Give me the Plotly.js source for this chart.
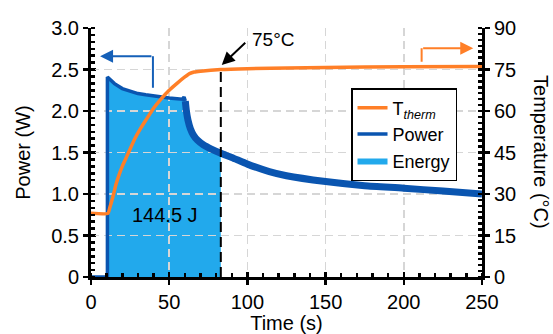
<!DOCTYPE html>
<html>
<head>
<meta charset="utf-8">
<script src="https://cdn.plot.ly/plotly-3.0.1.min.js"></script>
<style>html,body{margin:0;padding:0;background:#fff;}#chart{width:553px;height:334px;}</style>
</head>
<body>
<div id="chart"></div>
<script>
// ---- data ----
const tempTime = [0, 10.8, 12, 14, 16, 18, 20, 22, 24, 28, 32, 36, 40, 45, 50, 55, 60, 63, 66, 70, 83, 100, 150, 200, 250];
const tempC    = [23, 23, 25, 29, 33.5, 37, 40, 42.5, 45, 50, 54, 57.5, 61, 64.5, 67.5, 70, 72.3, 73.5, 74.1, 74.4, 75, 75.3, 75.7, 76, 76.1];

const powerTime = [0, 10.5, 10.5, 12, 15, 20, 25, 30, 35, 40, 45, 50, 55, 58.5, 59.5, 60.3, 61, 62, 63.5, 65.5, 68, 72, 77, 83, 90, 100, 114, 125, 150, 175, 200, 225, 250];
const powerW    = [0, 0, 2.41, 2.38, 2.33, 2.27, 2.235, 2.21, 2.195, 2.18, 2.168, 2.158, 2.148, 2.142, 2.17, 2.12, 2.0, 1.89, 1.79, 1.71, 1.65, 1.59, 1.54, 1.49, 1.44, 1.36, 1.27, 1.22, 1.15, 1.10, 1.07, 1.035, 1.0];

const energyStart = 10.5;      // s
const markTime = 83;           // s, dashed marker
const markTemp = 75;           // °C
const energyLabel = '144.5 J';
const markLabel = '75°C';

const powerTickVals = [0, 0.5, 1.0, 1.5, 2.0, 2.5, 3.0];
const powerTickText = ['0', '0.5', '1.0', '1.5', '2.0', '2.5', '3.0'];
const tempTickVals  = [0, 15, 30, 45, 60, 75, 90];
const timeTickVals  = [0, 50, 100, 150, 200, 250];

// arrow guides (data coordinates)
const blueArrowX = [39.6, 39.6], blueArrowY = [2.28, 2.66], blueArrowHeadX = 5.8;
const orangeArrowX = [211.4, 211.4], orangeArrowY = [77.8, 82.7], orangeArrowHeadX = 244.4;
const markArrowTail = [99.6, 85.2], markArrowHead = [83.6, 76.6], markTextPos = [101.5, 85.8];
const energyTextPos = [47.3, 0.75];

// ---- derived ----
const splitIdx = powerTime.indexOf(60.3);
const pA_t = powerTime.slice(0, splitIdx + 1), pA_w = powerW.slice(0, splitIdx + 1);
const pB_t = powerTime.slice(splitIdx), pB_w = powerW.slice(splitIdx);
const eT = [], eW = [];
powerTime.forEach((t, i) => { if (t >= energyStart && t <= markTime) { eT.push(t); eW.push(powerW[i]); } });

const ORANGE = '#ff7f27', BLUE = '#0a55b0', FILL = '#22a9ec', GRID = '#d6d6d6';
const FONT = 'Liberation Sans, Arial, Helvetica, sans-serif';
const FS = 20;

const traces = [
  {x: eT, y: eW, xaxis: 'x', yaxis: 'y', type: 'scatter', mode: 'lines', name: 'Energy',
   line: {width: 0, color: FILL}, fill: 'tozeroy', fillcolor: FILL, legendrank: 3, hoverinfo: 'skip'},
  {x: pA_t, y: pA_w, xaxis: 'x2', yaxis: 'y3', type: 'scatter', mode: 'lines', name: 'Power',
   line: {width: 3.5, color: BLUE}, legendrank: 2},
  {x: pB_t, y: pB_w, xaxis: 'x2', yaxis: 'y3', type: 'scatter', mode: 'lines', showlegend: false,
   line: {width: 7, color: BLUE, shape: 'spline', smoothing: 0.6}},
  {x: blueArrowX, y: blueArrowY, xaxis: 'x2', yaxis: 'y3', type: 'scatter', mode: 'lines', showlegend: false,
   line: {width: 2, color: '#1560b8'}, hoverinfo: 'skip'},
  {x: [markTime, markTime], y: [0, markTemp], xaxis: 'x2', yaxis: 'y4', type: 'scatter', mode: 'lines', showlegend: false,
   line: {width: 2, color: '#000', dash: '10px,5px'}, hoverinfo: 'skip'},
  {x: tempTime, y: tempC, xaxis: 'x2', yaxis: 'y4', type: 'scatter', mode: 'lines', name: 'T<sub><i>therm</i></sub>',
   line: {width: 3.5, color: ORANGE, shape: 'spline', smoothing: 0.5}, legendrank: 1},
  {x: orangeArrowX, y: orangeArrowY, xaxis: 'x2', yaxis: 'y4', type: 'scatter', mode: 'lines', showlegend: false,
   line: {width: 2, color: ORANGE}, hoverinfo: 'skip'}
];

const innerTicks = {ticks: 'inside', ticklen: 5, tickwidth: 2.5, tickcolor: '#000', showticklabels: false,
  showgrid: false, zeroline: false, showline: false, fixedrange: true};

const layout = {
  width: 553, height: 334,
  margin: {l: 91, r: 71, t: 28, b: 57},
  paper_bgcolor: '#fff', plot_bgcolor: 'rgba(0,0,0,0)',
  font: {family: FONT, size: FS, color: '#000'},
  showlegend: true,
  legend: {x: 0.665, y: 0.759, xanchor: 'left', yanchor: 'top', bgcolor: '#fff',
    bordercolor: '#000', borderwidth: 1.5, font: {size: 18}, tracegroupgap: 0, valign: 'middle'},
  xaxis: Object.assign({domain: [0, 1], range: [0, 250], anchor: 'y', tickvals: timeTickVals}, innerTicks),
  yaxis: Object.assign({domain: [0, 1], range: [0, 3], anchor: 'x', tickvals: powerTickVals}, innerTicks),
  yaxis2: Object.assign({overlaying: 'y', side: 'right', range: [0, 90], anchor: 'x', tickvals: tempTickVals}, innerTicks),
  xaxis2: {domain: [0, 1], range: [0, 250], anchor: 'y3', tickvals: timeTickVals,
    showline: true, linewidth: 3, linecolor: '#000', zeroline: false,
    ticks: 'outside', ticklen: 5, tickwidth: 2.5, tickcolor: '#000', tickfont: {size: FS},
    minor: {dtick: 10, tick0: 0, ticks: 'inside', ticklen: 4, tickwidth: 2.5, tickcolor: '#000', showgrid: false},
    showgrid: true, gridcolor: GRID, gridwidth: 1.5, griddash: '8px,5px',
    title: {text: 'Time (s)', standoff: 3, font: {size: FS}}, fixedrange: true},
  yaxis3: {domain: [0, 1], range: [0, 3], anchor: 'x2', tickvals: powerTickVals, ticktext: powerTickText,
    showline: true, linewidth: 3, linecolor: '#000', zeroline: false,
    ticks: 'outside', ticklen: 5, tickwidth: 2.5, tickcolor: '#000', tickfont: {size: FS},
    minor: {dtick: 0.5 / 6, tick0: 0, ticks: 'inside', ticklen: 4, tickwidth: 2.5, tickcolor: '#000', showgrid: false},
    showgrid: true, gridcolor: GRID, gridwidth: 1.5, griddash: '8px,5px',
    title: {text: 'Power (W)', standoff: 16, font: {size: FS}}, fixedrange: true},
  yaxis4: {overlaying: 'y3', side: 'right', anchor: 'x2', range: [0, 90], tickvals: tempTickVals,
    showline: true, linewidth: 3, linecolor: '#000', zeroline: false, showgrid: false,
    ticks: 'outside', ticklen: 5, tickwidth: 2.5, tickcolor: '#000', tickfont: {size: FS},
    minor: {dtick: 15 / 7, tick0: 0, ticks: 'inside', ticklen: 4, tickwidth: 2.5, tickcolor: '#000', showgrid: false},
    fixedrange: true},
  annotations: [
    {xref: 'paper', yref: 'paper', x: 1.152, y: 0.5, text: 'Temperature (°C)', textangle: 90,
     showarrow: false, font: {size: FS}, xanchor: 'center', yanchor: 'middle'},
    {xref: 'x2', yref: 'y3', x: energyTextPos[0], y: energyTextPos[1], text: energyLabel, showarrow: false,
     font: {size: FS}},
    {xref: 'x2', yref: 'y4', x: markTextPos[0], y: markTextPos[1], text: markLabel, showarrow: false,
     xanchor: 'left', yanchor: 'middle', font: {size: 19}},
    {xref: 'x2', yref: 'y4', axref: 'x2', ayref: 'y4', x: markArrowHead[0], y: markArrowHead[1],
     ax: markArrowTail[0], ay: markArrowTail[1], text: '', showarrow: true, arrowhead: 2, arrowsize: 1.3,
     arrowwidth: 2, arrowcolor: '#000'},
    {xref: 'x2', yref: 'y3', axref: 'x2', ayref: 'y3', x: blueArrowHeadX, y: blueArrowY[1],
     ax: blueArrowX[0], ay: blueArrowY[1], text: '', showarrow: true, arrowhead: 2, arrowsize: 1.3,
     arrowwidth: 2, arrowcolor: '#1560b8'},
    {xref: 'x2', yref: 'y4', axref: 'x2', ayref: 'y4', x: orangeArrowHeadX, y: orangeArrowY[1],
     ax: orangeArrowX[0], ay: orangeArrowY[1], text: '', showarrow: true, arrowhead: 2, arrowsize: 1.3,
     arrowwidth: 2, arrowcolor: ORANGE}
  ]
};

Plotly.newPlot('chart', traces, layout, {staticPlot: true, displayModeBar: false});
</script>
</body>
</html>
